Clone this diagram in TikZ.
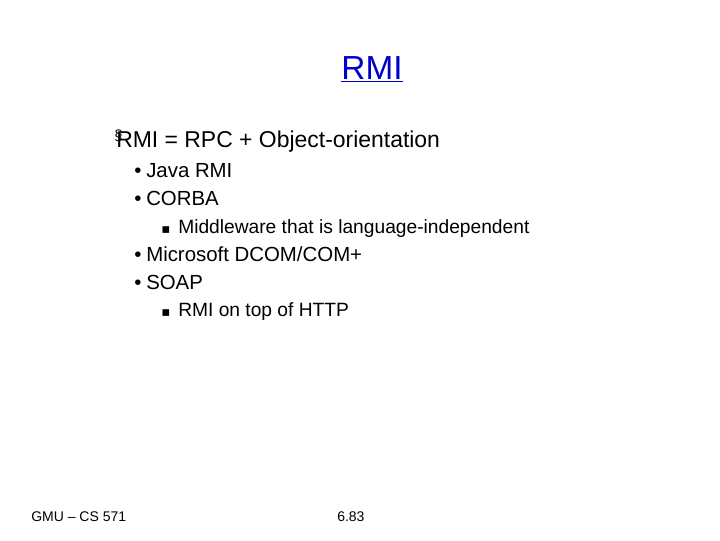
\documentclass[tikz,border=0pt]{standalone}
\usepackage{fontspec}
\setmainfont{Liberation Sans}
\newfontfamily\djsym{DejaVu Sans}
\begin{document}
\begin{tikzpicture}[x=0.75pt,y=-0.75pt,
  t/.style={anchor=base west,inner sep=0pt},
  l1/.style={t,font=\fontsize{17.2}{20}\selectfont},
  l2/.style={t,font=\fontsize{15.3}{18}\selectfont},
  l3/.style={t,font=\fontsize{14.4}{16}\selectfont},
  ft/.style={t,font=\fontsize{10.5}{12}\selectfont}]
\useasboundingbox (0,0) rectangle (720,540);
\node[t,anchor=base,font=\fontsize{25}{30}\selectfont,text=blue!80!black] (title) at (372,79) {\underline{RMI}};
\node[t,font=\fontsize{11}{12}\selectfont] (b1) at (114,140) {§};
\node[l1] (a1) at (116,147) {RMI = RPC + Object-orientation};
\node[l2] (b2) at (134,177) {•};
\node[l2] (a2) at (146,177) {Java RMI};
\node[l2] (b3) at (134,205) {•};
\node[l2] (a3) at (146,205) {CORBA};
\node[l3] (b4) at (161,233) {\djsym\fontsize{10}{11}\selectfont ▪};
\node[l3] (a4) at (178,233) {Middleware that is language-independent};
\node[l2] (b5) at (134,261) {•};
\node[l2] (a5) at (146,261) {Microsoft DCOM/COM+};
\node[l2] (b6) at (134,289) {•};
\node[l2] (a6) at (146,289) {SOAP};
\node[l3] (b7) at (161,316) {\djsym\fontsize{10}{11}\selectfont ▪};
\node[l3] (a7) at (178,316) {RMI on top of HTTP};
\node[ft] (f1) at (31,521) {GMU – CS 571};
\node[ft] (f2) at (337,521) {6.83};
\end{tikzpicture}
\end{document}
